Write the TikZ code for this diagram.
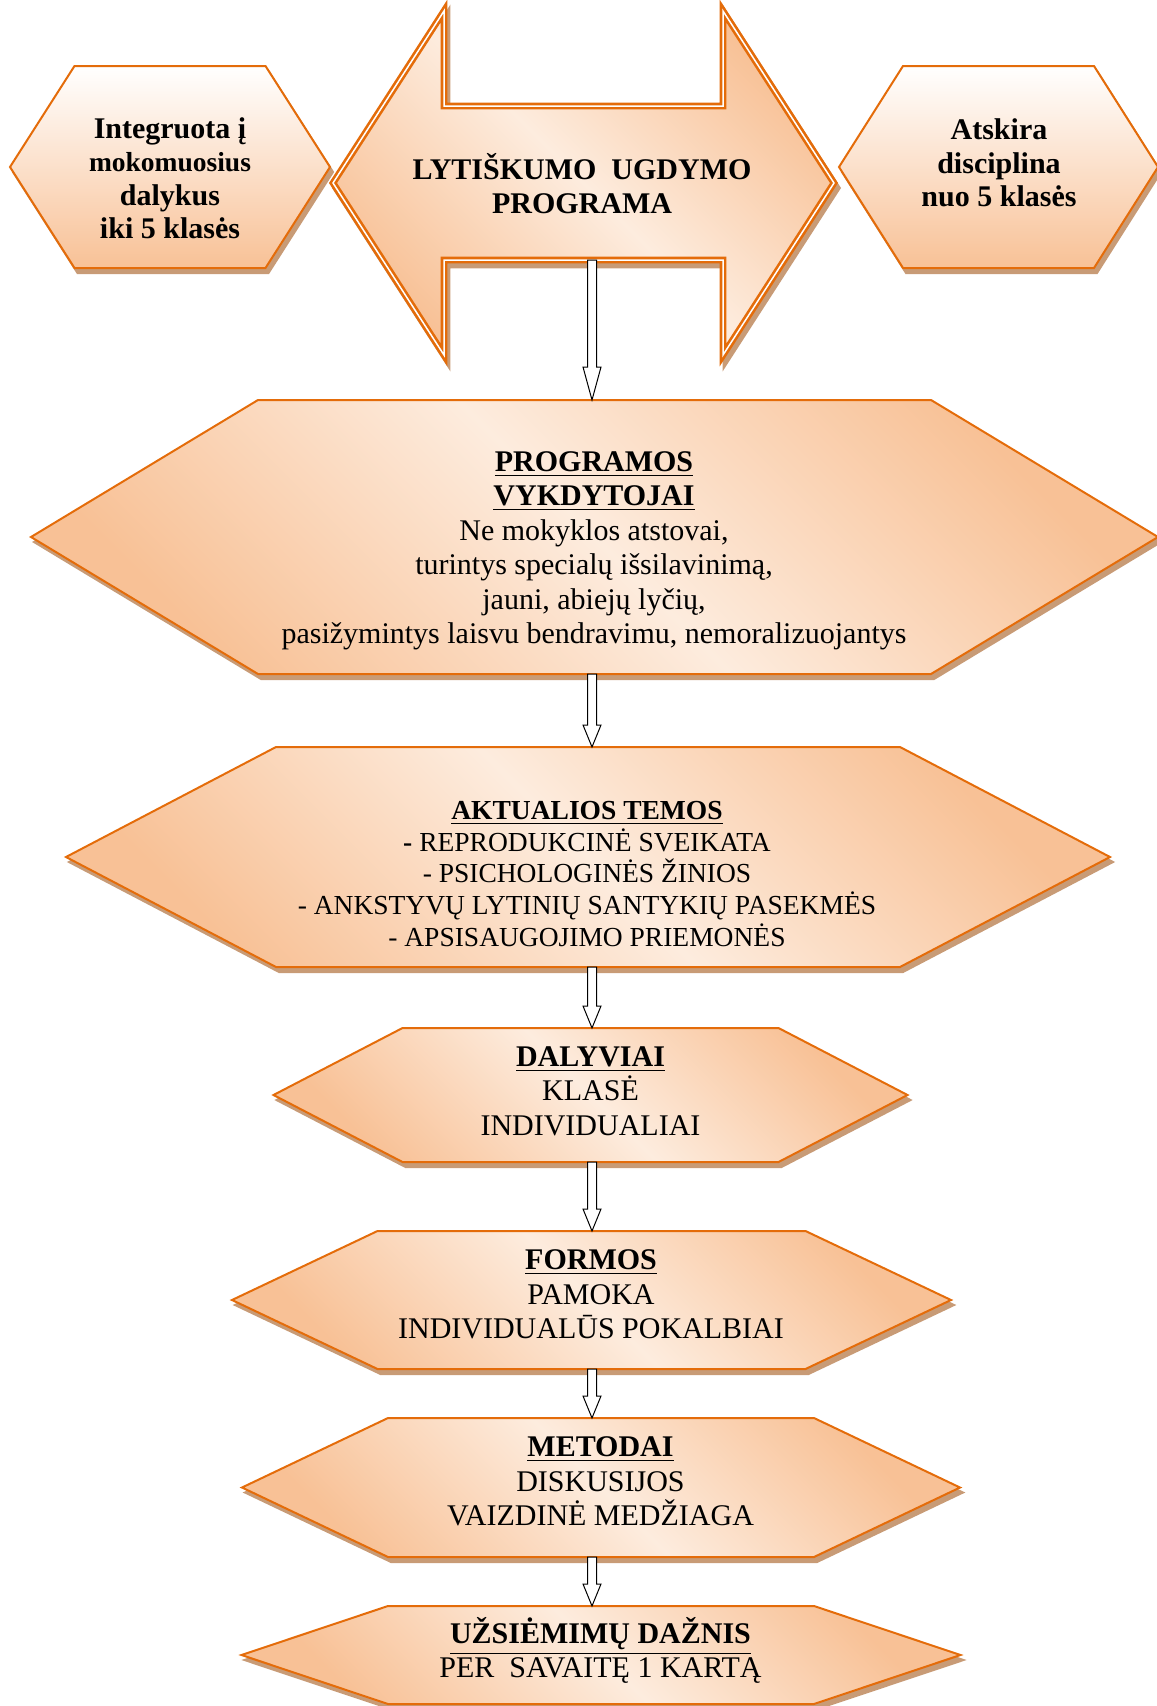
\documentclass[tikz,border=0pt]{standalone}
\usepackage{fontspec}
\setmainfont{Liberation Serif}
\usetikzlibrary{calc, shadows}

\definecolor{lineOrange}{RGB}{228,108,10}
\definecolor{fillPeach}{RGB}{248,193,150}
\definecolor{fillLight}{RGB}{253,236,222}
\definecolor{shadowTan}{RGB}{200,155,118}

\tikzset{
    boxShadow/.style={drop shadow={shadow xshift=1.2pt, shadow yshift=-2pt, fill=shadowTan, draw=shadowTan, line width=#1, opacity=1}},
    boxShadow/.default=0.8pt,
    hexBox/.style={draw=lineOrange, line width=0.8pt, boxShadow, left color=fillPeach, right color=fillPeach, middle color=fillLight, shading angle=135},
    sideBox/.style={draw=lineOrange, line width=0.8pt, boxShadow, top color=white, bottom color=fillPeach},
    progArrow/.style={draw=lineOrange, double=white, double distance=0.6pt, line width=1.05pt, boxShadow=2.7pt, left color=fillPeach, right color=fillPeach, middle color=fillLight, shading angle=135},
    hollowArrow/.style={draw=black, fill=white, line width=0.4pt,
        to path={let \p1=(\tikztostart), \p2=(\tikztotarget) in
            (\x1-1.8pt,\y1) -- (\x1-1.8pt,\y2+#1) -- (\x1-3.6pt,\y2+#1) -- (\x2,\y2)
            -- (\x1+3.6pt,\y2+#1) -- (\x1+1.8pt,\y2+#1) -- (\x1+1.8pt,\y1) -- cycle}},
    hollowArrow/.default=8.8pt,
    boxText/.style={align=center, inner sep=0pt, font=\fontsize{12}{13.8}\selectfont}
}

\begin{document}
\begin{tikzpicture}[x=0.4pt, y=-0.4pt]
\useasboundingbox (0,0) rectangle (1156,1706);

% dviguba rodykle
\begin{scope}[shift={(583.5,183)}]
    \coordinate (cTipLPt) at (-250.5,0);
    \coordinate (cHeadLUPt) at (-139.5,-172);
    \coordinate (cShaftLUPt) at (-139.5,-77);
    \coordinate (cShaftRUPt) at (139.5,-77);
    \coordinate (cHeadRUPt) at (139.5,-172);
    \coordinate (cTipRPt) at (250.5,0);
    \coordinate (cHeadRDPt) at (139.5,172);
    \coordinate (cShaftRDPt) at (139.5,77);
    \coordinate (cShaftLDPt) at (-139.5,77);
    \coordinate (cHeadLDPt) at (-139.5,172);
    \coordinate (progBot) at (8.5,77);

    \path[progArrow] (cTipLPt)--(cHeadLUPt)--(cShaftLUPt)--(cShaftRUPt)--(cHeadRUPt)--(cTipRPt)
        --(cHeadRDPt)--(cShaftRDPt)--(cShaftLDPt)--(cHeadLDPt)--cycle;
\end{scope}

% sesiakampiai
\foreach \hexName/\hexCx/\hexCy/\hexW/\hexC/\hexH/\hexStyle in
    {integ/170/167/160/95.5/101/sideBox, atsk/998.5/167/159.5/95.5/101/sideBox,
     vykd/594.5/537/563.5/336.5/137/hexBox, akt/588/857/522/312/110/hexBox,
     dal/590.5/1095/317/188/67/hexBox, form/591.5/1300/359.5/214/69/hexBox,
     met/601/1487.5/359/213/69.5/hexBox, uzs/601/1655/359.5/213/49/hexBox}
{
    \begin{scope}[shift={(\hexCx,\hexCy)}]
    \coordinate (cAPt) at (\hexW,0);
    \coordinate (cBPt) at (\hexC,-\hexH);
    \coordinate (cCPt) at (-\hexC,-\hexH);
    \coordinate (cDPt) at (-\hexW,0);
    \coordinate (cEPt) at (-\hexC,\hexH);
    \coordinate (cFPt) at (\hexC,\hexH);
    \coordinate (\hexName Top) at (592-\hexCx,-\hexH);
    \coordinate (\hexName Bot) at (592-\hexCx,\hexH);

    \path[\hexStyle] (cAPt)--(cBPt)--(cCPt)--(cDPt)--(cEPt)--(cFPt)--cycle;
    \end{scope}
}

% tekstai
\node[boxText, font=\bfseries\fontsize{12}{13.4}\selectfont] (integText) at (170,178)
    {Integruota į\\{\fontsize{11}{13.4}\selectfont mokomuosius}\\dalykus\\iki 5 klasės};
\node[boxText, font=\bfseries\fontsize{12}{13.4}\selectfont] (atskText) at (999,163)
    {Atskira\\disciplina\\nuo 5 klasės};
\node[boxText, font=\bfseries\fontsize{12}{13.6}\selectfont] (progText) at (582,184)
    {LYTIŠKUMO\ \ UGDYMO\\PROGRAMA};
\node[boxText] (vykdText) at (594,551)
    {\textbf{\underline{PROGRAMOS}}\\\textbf{\underline{VYKDYTOJAI}}\\Ne mokyklos atstovai,\\turintys specialų išsilavinimą,\\jauni, abiejų lyčių,\\pasižymintys laisvu bendravimu, nemoralizuojantys};
\node[boxText, font=\fontsize{11}{12.7}\selectfont] (aktText) at (587,874)
    {\textbf{\underline{AKTUALIOS TEMOS}}\\\textbf{-} REPRODUKCINĖ SVEIKATA\\- PSICHOLOGINĖS ŽINIOS\\- ANKSTYVŲ LYTINIŲ SANTYKIŲ PASEKMĖS\\- APSISAUGOJIMO PRIEMONĖS};
\node[boxText] (dalText) at (590.5,1091)
    {\textbf{\underline{DALYVIAI}}\\KLASĖ\\INDIVIDUALIAI};
\node[boxText] (formText) at (591,1294.5)
    {\textbf{\underline{FORMOS}}\\PAMOKA\\INDIVIDUALŪS POKALBIAI};
\node[boxText] (metText) at (600.5,1481.5)
    {\textbf{\underline{METODAI}}\\DISKUSIJOS\\VAIZDINĖ MEDŽIAGA};
\node[boxText] (uzsText) at (600.5,1650.5)
    {\textbf{\underline{UŽSIĖMIMŲ DAŽNIS}}\\PER\ \ SAVAITĘ 1 KARTĄ};

% rodykles
\draw[hollowArrow=13.2pt] (progBot) to (vykdTop);
\foreach \fromHex/\toHex in {vykd/akt, akt/dal, dal/form, form/met, met/uzs}
    \draw[hollowArrow] (\fromHex Bot) to (\toHex Top);

\end{tikzpicture}
\end{document}
